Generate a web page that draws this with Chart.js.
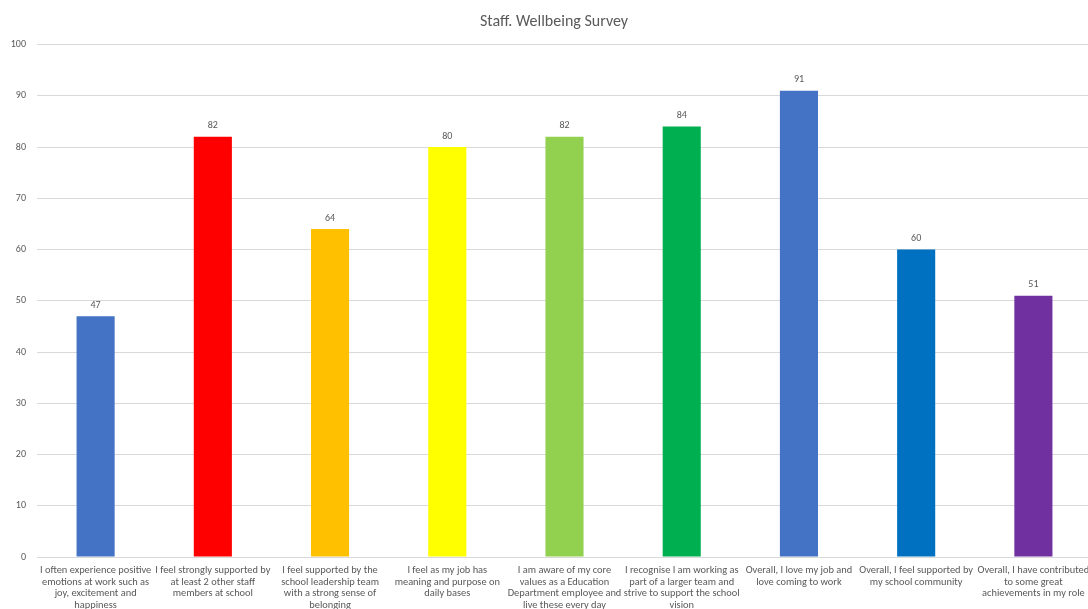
<!DOCTYPE html>
<html>
<head>
<meta charset="utf-8">
<script src="https://cdn.jsdelivr.net/npm/chart.js@4/dist/chart.umd.min.js"></script>
<style>
  html, body { margin: 0; padding: 0; background: #fff; overflow: hidden; }
  #wrap { width: 1088px; height: 609px; overflow: hidden; position: relative; }
  #c { display: block; }
</style>
</head>
<body>
<div id="wrap"><canvas id="c" width="1108" height="609" style="width:1108px;height:609px"></canvas></div>
<script>
const titleText = "Staff. Wellbeing Survey";
const categories = [
  ["I often experience positive", "emotions at work such as", "joy, excitement and", "happiness"],
  ["I feel strongly supported by", "at least 2 other staff", "members at school"],
  ["I feel supported by the", "school leadership team", "with a strong sense of", "belonging"],
  ["I feel as my job has", "meaning and purpose on", "daily bases"],
  ["I am aware of my core", "values as a Education", "Department employee and", "live these every day"],
  ["I recognise I am working as", "part of a larger team and", "strive to support the school", "vision"],
  ["Overall, I love my job and", "love coming to work"],
  ["Overall, I feel supported by", "my school community"],
  ["Overall, I have contributed", "to some great", "achievements in my role"]
];
const values = [47, 82, 64, 80, 82, 84, 91, 60, 51];
const barColors = ["#4472C4", "#FF0000", "#FFC000", "#FFFF00", "#92D050", "#00B050", "#4472C4", "#0070C0", "#7030A0"];
const yMin = 0, yMax = 100, yStep = 10;

const FONT = "Carlito, Lato, 'Liberation Sans', sans-serif";
const TXT = "#595959";

const valueLabels = {
  id: "valueLabels",
  afterDatasetsDraw(chart) {
    const ctx = chart.ctx;
    const meta = chart.getDatasetMeta(0);
    ctx.save();
    ctx.font = "10px " + FONT;
    ctx.fillStyle = TXT;
    ctx.textAlign = "center";
    ctx.textBaseline = "middle";
    meta.data.forEach((bar, i) => {
      ctx.fillText(String(values[i]), bar.x, bar.y - 11);
    });
    ctx.restore();
  }
};

const chartTitle = {
  id: "chartTitle",
  afterDraw(chart) {
    const ctx = chart.ctx;
    ctx.save();
    ctx.font = "16px " + FONT;
    ctx.fillStyle = TXT;
    ctx.textAlign = "center";
    ctx.textBaseline = "middle";
    ctx.fillText(titleText, chart.width / 2, 22);
    ctx.restore();
  }
};

new Chart(document.getElementById("c"), {
  type: "bar",
  data: {
    labels: categories,
    datasets: [{
      data: values,
      backgroundColor: barColors,
      borderWidth: 0,
      barPercentage: 0.325,
      categoryPercentage: 1.0
    }]
  },
  options: {
    responsive: false,
    animation: false,
    devicePixelRatio: 1,
    layout: { padding: { left: 0, right: 16, top: 44.6, bottom: 0 } },
    plugins: {
      legend: { display: false },
      tooltip: { enabled: false },
      title: { display: false }
    },
    scales: {
      x: {
        grid: { display: false, drawTicks: false },
        border: { display: true, color: "#d9d9d9", width: 1 },
        ticks: {
          color: TXT,
          font: { family: FONT, size: 10.4, lineHeight: 1.1 },
          padding: 8,
          maxRotation: 0,
          minRotation: 0,
          autoSkip: false
        },
        afterFit(scale) { scale.height = 52; }
      },
      y: {
        min: yMin,
        max: yMax,
        grid: { color: "#d9d9d9", lineWidth: 1, drawTicks: false },
        border: { display: false },
        ticks: {
          stepSize: yStep,
          color: TXT,
          font: { family: FONT, size: 10 },
          padding: 11
        },
        afterFit(scale) { scale.width = 37; }
      }
    }
  },
  plugins: [valueLabels, chartTitle]
});
</script>
</body>
</html>
